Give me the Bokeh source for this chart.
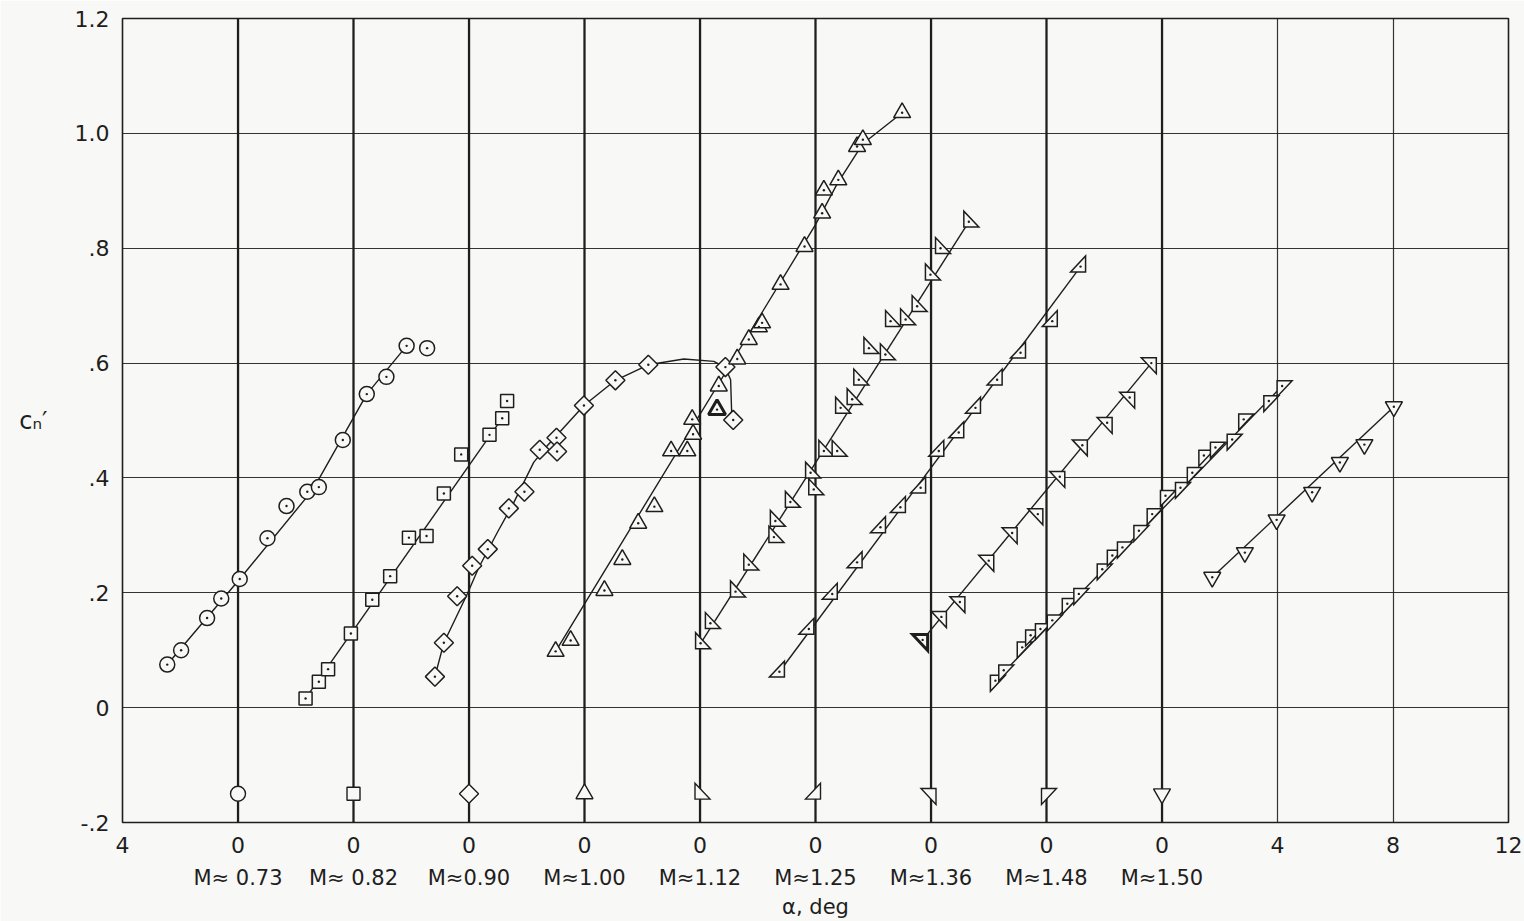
import numpy as np
from bokeh.plotting import figure
from bokeh.models import Range1d, FixedTicker, LinearAxis, Span
from bokeh.embed import file_html
from bokeh.resources import INLINE

# ---------------- data (alpha in deg relative to each Mach's own zero, cn') -------------
mach_labels = ["M\u2248 0.73", "M\u2248 0.82", "M\u22480.90", "M\u22481.00", "M\u22481.12",
               "M\u22481.25", "M\u22481.36", "M\u22481.48", "M\u22481.50"]

x_tick_labels = ["4", "0", "0", "0", "0", "0", "0", "0", "0", "0", "4", "8", "12"]
y_tick_values = [-0.2, 0.0, 0.2, 0.4, 0.6, 0.8, 1.0, 1.2]
y_tick_labels = ["-.2", "0", ".2", ".4", ".6", ".8", "1.0", "1.2"]

m073_alpha = [-2.45, -1.97, -1.07, -0.58, 0.06, 1.02, 1.68, 2.40, 2.80, 3.63, 4.46, 5.14, 5.84, 6.55]
m073_cn = [0.075, 0.100, 0.156, 0.190, 0.224, 0.295, 0.351, 0.376, 0.384, 0.466, 0.546, 0.576, 0.630, 0.626]
m073_fair_alpha = [-2.45, 0.06, 2.6, 4.46, 5.84]
m073_fair_cn = [0.075, 0.224, 0.38, 0.546, 0.630]

m082_alpha = [-1.66, -1.20, -0.88, -0.09, 0.65, 1.27, 1.92, 2.53, 3.13, 3.73, 4.71, 5.15, 5.32]
m082_cn = [0.016, 0.045, 0.067, 0.129, 0.188, 0.229, 0.296, 0.299, 0.373, 0.441, 0.475, 0.504, 0.534]
m082_fair_alpha = [-1.66, 5.15]
m082_fair_cn = [0.016, 0.504]

m090_alpha = [-1.18, -0.87, -0.41, 0.11, 0.65, 1.38, 1.92, 2.45, 3.03, 3.05, 3.98, 5.07, 6.21, 8.88, 9.15]
m090_cn = [0.054, 0.113, 0.194, 0.247, 0.276, 0.347, 0.376, 0.449, 0.470, 0.446, 0.526, 0.570, 0.597, 0.593, 0.501]
m090_fair_alpha = [-1.18, -0.87, -0.06, 0.34, 0.98, 1.55, 2.24, 2.71, 3.98, 5.07, 6.21, 7.44, 8.48, 8.88, 9.06, 9.10]
m090_fair_cn = [0.054, 0.113, 0.198, 0.244, 0.305, 0.357, 0.427, 0.456, 0.526, 0.570, 0.597, 0.607, 0.603, 0.592, 0.571, 0.508]

m100_alpha = [-1.00, -0.48, 0.69, 1.31, 1.86, 2.42, 3.00, 3.56, 3.76, 3.73, 4.65, 5.29, 5.69, 6.04, 6.15,
              6.79, 7.62, 8.23, 8.29, 8.79, 9.44, 9.64, 11.00]
m100_cn = [0.098, 0.117, 0.204, 0.258, 0.321, 0.350, 0.447, 0.447, 0.476, 0.502, 0.560, 0.607, 0.641, 0.663, 0.670,
           0.737, 0.803, 0.861, 0.901, 0.919, 0.977, 0.989, 1.036]
m100_bold_alpha = [4.59]
m100_bold_cn = [0.519]
m100_fair_alpha = [-1.0, 8.0, 8.75, 9.64, 11.0]
m100_fair_cn = [0.098, 0.841, 0.912, 0.982, 1.036]

m112_alpha = [0.02, 0.36, 1.23, 1.69, 2.56, 2.61, 3.13, 3.83, 3.94, 4.29, 4.75, 4.87, 5.27, 5.50, 5.85,
              6.42, 6.60, 7.12, 7.52, 7.98, 8.33, 9.31]
m112_cn = [0.112, 0.147, 0.202, 0.249, 0.297, 0.325, 0.358, 0.409, 0.380, 0.447, 0.447, 0.522, 0.537, 0.571, 0.626,
           0.615, 0.673, 0.676, 0.699, 0.754, 0.800, 0.846]
m112_fair_alpha = [0.0, 9.31]
m112_fair_cn = [0.11, 0.846]

m125_alpha = [-1.25, -0.23, 0.58, 1.44, 2.25, 2.94, 3.64, 4.27, 4.96, 5.54, 6.29, 7.10, 8.20, 9.18]
m125_cn = [0.0625, 0.137, 0.198, 0.253, 0.314, 0.349, 0.383, 0.447, 0.479, 0.522, 0.571, 0.618, 0.673, 0.768]
m125_fair_alpha = [-1.25, 9.18]
m125_fair_cn = [0.0625, 0.768]

m136_alpha = [0.36, 1.00, 2.00, 2.81, 3.70, 4.46, 5.24, 6.10, 6.88, 7.63]
m136_cn = [0.158, 0.184, 0.256, 0.304, 0.337, 0.402, 0.457, 0.496, 0.540, 0.600]
m136_bold_alpha = [-0.29]
m136_bold_cn = [0.118]
m136_fair_alpha = [-0.29, 7.63]
m136_fair_cn = [0.118, 0.600]

m148_alpha = [-1.77, -1.48, -0.84, -0.55, -0.21, 0.20, 0.72, 1.12, 1.93, 2.28, 2.63, 3.20, 3.66, 4.12,
              4.64, 5.05, 5.45, 5.85, 6.43, 6.83, 7.70, 8.16]
m148_cn = [0.047, 0.065, 0.105, 0.126, 0.137, 0.152, 0.181, 0.198, 0.241, 0.265, 0.279, 0.308, 0.337, 0.369,
           0.383, 0.409, 0.439, 0.453, 0.467, 0.502, 0.534, 0.560]
m148_fair_alpha = [-1.77, 8.16]
m148_fair_cn = [0.047, 0.560]

m150_alpha = [1.74, 2.87, 3.97, 5.20, 6.16, 7.01, 8.03]
m150_cn = [0.227, 0.270, 0.327, 0.375, 0.427, 0.458, 0.524]
m150_fair_alpha = [1.74, 8.03]
m150_fair_cn = [0.227, 0.524]

legend_cn = -0.15
panel_shift = 4.0   # each Mach's origin is displaced 4 deg along the alpha axis

# ---------------- figure ----------------
BG = "#f8f8f6"
INK = "#1e1e1e"
FONT = "DejaVu Sans"
W, H = 1524, 921
L, R, T, B = 122, 16, 18, 96
X0, X1 = -4.0, 44.0
Y0, Y1 = -0.2, 1.2
PX_X = (W - L - R) / (X1 - X0)
PX_Y = (H - T - B) / (Y1 - Y0)

p = figure(width=W, height=H, x_range=Range1d(X0, X1), y_range=Range1d(Y0, Y1),
           output_backend="svg", toolbar_location=None,
           min_border_left=L, min_border_right=R, min_border_top=T, min_border_bottom=B,
           background_fill_color=BG, border_fill_color=BG)
p.outline_line_color = INK
p.outline_line_width = 1.6

# grid
p.xgrid.ticker = FixedTicker(ticks=list(np.arange(X0, X1 + 0.1, 4.0)))
p.ygrid.ticker = FixedTicker(ticks=y_tick_values)
for g in (p.xgrid, p.ygrid):
    g.grid_line_color = INK
    g.grid_line_width = 1.2
    g.grid_line_alpha = 0.9

def style_axis(ax, size="22px"):
    ax.axis_line_color = None
    ax.major_tick_line_color = None
    ax.minor_tick_line_color = None
    ax.major_label_text_font = FONT
    ax.major_label_text_font_size = size
    ax.major_label_text_color = INK

x_ticks = list(np.arange(X0, X1 + 0.1, 4.0))
p.xaxis.ticker = FixedTicker(ticks=x_ticks)
p.xaxis.major_label_overrides = {t: lab for t, lab in zip(x_ticks, x_tick_labels)}
style_axis(p.xaxis[0])
p.xaxis.major_label_standoff = 8

p.yaxis.ticker = FixedTicker(ticks=y_tick_values)
p.yaxis.major_label_overrides = {t: lab for t, lab in zip(y_tick_values, y_tick_labels)}
style_axis(p.yaxis[0])
p.yaxis.major_label_standoff = 7
p.yaxis.axis_label = "c\u2099\u2032"
p.yaxis.axis_label_orientation = "horizontal"
p.yaxis.axis_label_text_font = FONT
p.yaxis.axis_label_text_font_size = "24px"
p.yaxis.axis_label_text_font_style = "normal"
p.yaxis.axis_label_text_color = INK
p.yaxis.axis_label_standoff = 24

zeros = [panel_shift * i for i in range(len(mach_labels))]
mach_axis = LinearAxis(ticker=FixedTicker(ticks=zeros),
                       major_label_overrides={z: lab for z, lab in zip(zeros, mach_labels)},
                       axis_label="\u03b1, deg")
style_axis(mach_axis, "21px")
mach_axis.major_label_standoff = 4
mach_axis.axis_label_text_font = FONT
mach_axis.axis_label_text_font_size = "21px"
mach_axis.axis_label_text_font_style = "normal"
mach_axis.axis_label_text_color = INK
mach_axis.axis_label_standoff = 2
p.add_layout(mach_axis, "below")

# heavier zero lines for every Mach origin
for z in zeros:
    p.add_layout(Span(location=z, dimension="height", line_color=INK, line_width=2.2, level="underlay"))

# ---------------- markers ----------------
RT_W, RT_H = 15.0, 16.0

def right_tri(gx, cn, corner):
    w = RT_W / PX_X
    h = RT_H / PX_Y
    sx = -1 if corner[1] == "l" else 1
    sy = -1 if corner[0] == "b" else 1
    xs, ys = [], []
    for x, y in zip(gx, cn):
        rx, ry = x + sx * w / 3, y + sy * h / 3
        xs.append([rx, rx - sx * w, rx])
        ys.append([ry, ry, ry - sy * h])
    return xs, ys

def draw_marker(gx, cn, kind, lw=1.5):
    if kind == "circle":
        p.scatter(gx, cn, marker="circle", size=15, fill_color=BG, line_color=INK, line_width=lw)
    elif kind == "square":
        p.scatter(gx, cn, marker="square", size=13, fill_color=BG, line_color=INK, line_width=lw)
    elif kind == "diamond":
        p.scatter(gx, cn, marker="square", size=13.5, angle=np.pi / 4, fill_color=BG,
                  line_color=INK, line_width=lw)
    elif kind == "triangle":
        p.scatter(gx, cn, marker="triangle", size=17, fill_color=BG, line_color=INK, line_width=lw)
    elif kind == "inverted_triangle":
        p.scatter(gx, cn, marker="inverted_triangle", size=17, fill_color=BG, line_color=INK, line_width=lw)
    else:
        xs, ys = right_tri(gx, cn, kind)
        p.patches(xs, ys, fill_color=BG, line_color=INK, line_width=lw, line_join="miter")

series = [
    (m073_alpha, m073_cn, m073_fair_alpha, m073_fair_cn, "circle"),
    (m082_alpha, m082_cn, m082_fair_alpha, m082_fair_cn, "square"),
    (m090_alpha, m090_cn, m090_fair_alpha, m090_fair_cn, "diamond"),
    (m100_alpha, m100_cn, m100_fair_alpha, m100_fair_cn, "triangle"),
    (m112_alpha, m112_cn, m112_fair_alpha, m112_fair_cn, "bl"),
    (m125_alpha, m125_cn, m125_fair_alpha, m125_fair_cn, "br"),
    (m136_alpha, m136_cn, m136_fair_alpha, m136_fair_cn, "tr"),
    (m148_alpha, m148_cn, m148_fair_alpha, m148_fair_cn, "tl"),
    (m150_alpha, m150_cn, m150_fair_alpha, m150_fair_cn, "inverted_triangle"),
]

# faired curves first
for i, (a, c, fa, fc, kind) in enumerate(series):
    shift = panel_shift * i
    p.line([v + shift for v in fa], fc, line_color=INK, line_width=1.4)

bold_pts = {3: (m100_bold_alpha, m100_bold_cn), 6: (m136_bold_alpha, m136_bold_cn)}

all_x, all_y = [], []
for i, (a, c, fa, fc, kind) in enumerate(series):
    shift = panel_shift * i
    gx = [v + shift for v in a]
    draw_marker(gx, c, kind)
    all_x += gx
    all_y += list(c)
    if i in bold_pts:
        ba, bc = bold_pts[i]
        bgx = [v + shift for v in ba]
        draw_marker(bgx, bc, kind, lw=3.0)
        all_x += bgx
        all_y += list(bc)
    # symbol key on the Mach origin line
    draw_marker([shift], [legend_cn], kind, lw=1.4)

# centre dots of data symbols
p.scatter(all_x, all_y, marker="circle", size=2.4, fill_color=INK, line_color=None)

open("out.html", "w").write(file_html(p, INLINE))
